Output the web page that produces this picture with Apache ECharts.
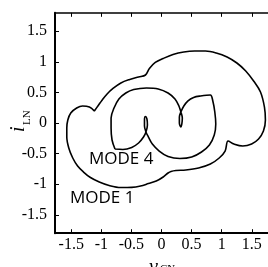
<!DOCTYPE html>
<html>
<head>
<meta charset="utf-8">
<script src="https://cdn.jsdelivr.net/npm/echarts@6/dist/echarts.min.js"></script>
<style>
  html, body { margin: 0; padding: 0; background: #fff; }
  #chart { width: 268px; height: 267px; }
</style>
</head>
<body>
<div id="chart"></div>
<script>
// tick positions on both axes
const ticks = [-1.5, -1, -0.5, 0, 0.5, 1, 1.5];

// MODE 1 (outer curve), closed
const mode1X = [-1.116, -1.198, -1.312, -1.410, -1.508, -1.557, -1.574, -1.574, -1.541, -1.475,
  -1.394, -1.296, -1.181, -1.034, -0.871, -0.675, -0.495, -0.348, -0.217, -0.087,
  0.028, 0.109, 0.158, 0.240, 0.404, 0.616, 0.812, 0.959, 1.057, 1.106,
  1.204, 1.351, 1.498, 1.613, 1.694, 1.727, 1.711, 1.645, 1.531, 1.400,
  1.253, 1.090, 0.910, 0.730, 0.551, 0.371, 0.191, 0.028, -0.103, -0.201,
  -0.266, -0.381, -0.528, -0.675, -0.806, -0.904, -0.985, -1.051, -1.116];
const mode1Y = [0.196, 0.261, 0.278, 0.245, 0.163, 0.049, -0.082, -0.229, -0.408, -0.572,
  -0.703, -0.801, -0.891, -0.964, -1.021, -1.054, -1.051, -1.029, -0.989, -0.948,
  -0.882, -0.817, -0.792, -0.776, -0.768, -0.735, -0.670, -0.572, -0.458, -0.294,
  -0.343, -0.376, -0.343, -0.261, -0.131, 0.049, 0.261, 0.507, 0.686, 0.850,
  0.980, 1.078, 1.144, 1.176, 1.176, 1.160, 1.119, 1.054, 0.989, 0.891,
  0.784, 0.752, 0.711, 0.654, 0.564, 0.474, 0.376, 0.286, 0.196];

// MODE 4 (inner curve with two small loops), closed
const mode4X = [-0.773, -0.822, -0.838, -0.838, -0.789, -0.708, -0.593, -0.462, -0.250, -0.054,
  0.109, 0.224, 0.289, 0.322, 0.346, 0.338, 0.322, 0.297, 0.297, 0.322,
  0.371, 0.436, 0.534, 0.649, 0.812, 0.853, 0.886, 0.902, 0.877, 0.796,
  0.665, 0.502, 0.306, 0.109, -0.038, -0.152, -0.217, -0.258, -0.283, -0.283,
  -0.266, -0.242, -0.234, -0.258, -0.299, -0.381, -0.495, -0.642, -0.773];
const mode4Y = [-0.425, -0.278, -0.082, 0.082, 0.245, 0.392, 0.490, 0.547, 0.572, 0.556,
  0.490, 0.392, 0.278, 0.180, 0.082, -0.016, -0.065, 0, 0.098, 0.180,
  0.278, 0.359, 0.417, 0.441, 0.458, 0.359, 0.180, -0.016, -0.196, -0.359,
  -0.474, -0.556, -0.580, -0.547, -0.458, -0.343, -0.229, -0.147, -0.049, 0.049,
  0.106, 0.065, -0.033, -0.147, -0.229, -0.327, -0.400, -0.433, -0.425];

const zip = (xs, ys) => xs.map((x, i) => [x, ys[i]]);

const serif = "'Liberation Serif', 'DejaVu Serif', serif";
const labelStyle = { color: "#000", fontFamily: serif, fontSize: 16 };

function axis(extra) {
  return Object.assign({
    type: "value",
    splitLine: { show: false },
    axisLine: { onZero: false, lineStyle: { color: "#000", width: 2 } },
    axisTick: { inside: true, length: 4, customValues: ticks, lineStyle: { color: "#000", width: 1 } },
    axisLabel: Object.assign({ customValues: ticks }, labelStyle),
  }, extra);
}

const chart = echarts.init(document.getElementById("chart"), null, { renderer: "canvas" });

chart.setOption({
  animation: false,
  backgroundColor: "#fff",
  grid: { left: 55, top: 12.8, width: 216.6, height: 220.4, containLabel: false },
  xAxis: [
    axis({ min: -1.77, max: 1.77, position: "bottom", axisLabel: Object.assign({ customValues: ticks, margin: 4 }, labelStyle) }),
    axis({ min: -1.77, max: 1.77, position: "top", axisLabel: { show: false },
      axisLine: { onZero: false, lineStyle: { color: "#000", width: 1.5 } } }),
  ],
  yAxis: [
    axis({ min: -1.8, max: 1.8, position: "left", axisLabel: Object.assign({ customValues: ticks, margin: 8 }, labelStyle) }),
    // right frame edge lies outside the picture
    axis({ min: -1.8, max: 1.8, position: "right", axisLabel: { show: false },
      axisLine: { show: false }, axisTick: { show: false } }),
  ],
  series: [
    {
      name: "MODE 1",
      type: "line",
      data: zip(mode1X, mode1Y),
      showSymbol: false,
      smooth: 0.35,
      lineStyle: { color: "#000", width: 1.6 },
    },
    {
      name: "MODE 4",
      type: "line",
      data: zip(mode4X, mode4Y),
      showSymbol: false,
      smooth: 0.35,
      lineStyle: { color: "#000", width: 1.6 },
    },
  ],
  graphic: [
    // curve labels
    { type: "text", left: 89, top: 151, style: { text: "MODE 4", fill: "#000", font: "17px 'Open Sans', sans-serif" } },
    { type: "text", left: 70, top: 190, style: { text: "MODE 1", fill: "#000", font: "17px 'Open Sans', sans-serif" } },
    // x axis name: v_CN (cut by the bottom edge)
    { type: "text", left: 149, top: 258, style: { text: "v", fill: "#000", font: "italic 20px " + serif } },
    { type: "text", left: 160, top: 264, style: { text: "CN", fill: "#000", font: "11px " + serif } },
    // y axis name: i_LN, rotated
    {
      type: "group", x: 29, y: 132, rotation: Math.PI / 2,
      children: [
        { type: "text", x: 0, y: 0, style: { text: "i", fill: "#000", font: "italic 20px " + serif, textVerticalAlign: "bottom" } },
        { type: "text", x: 7, y: 4, style: { text: "LN", fill: "#000", font: "11px " + serif, textVerticalAlign: "bottom" } },
      ],
    },
  ],
});
</script>
</body>
</html>
